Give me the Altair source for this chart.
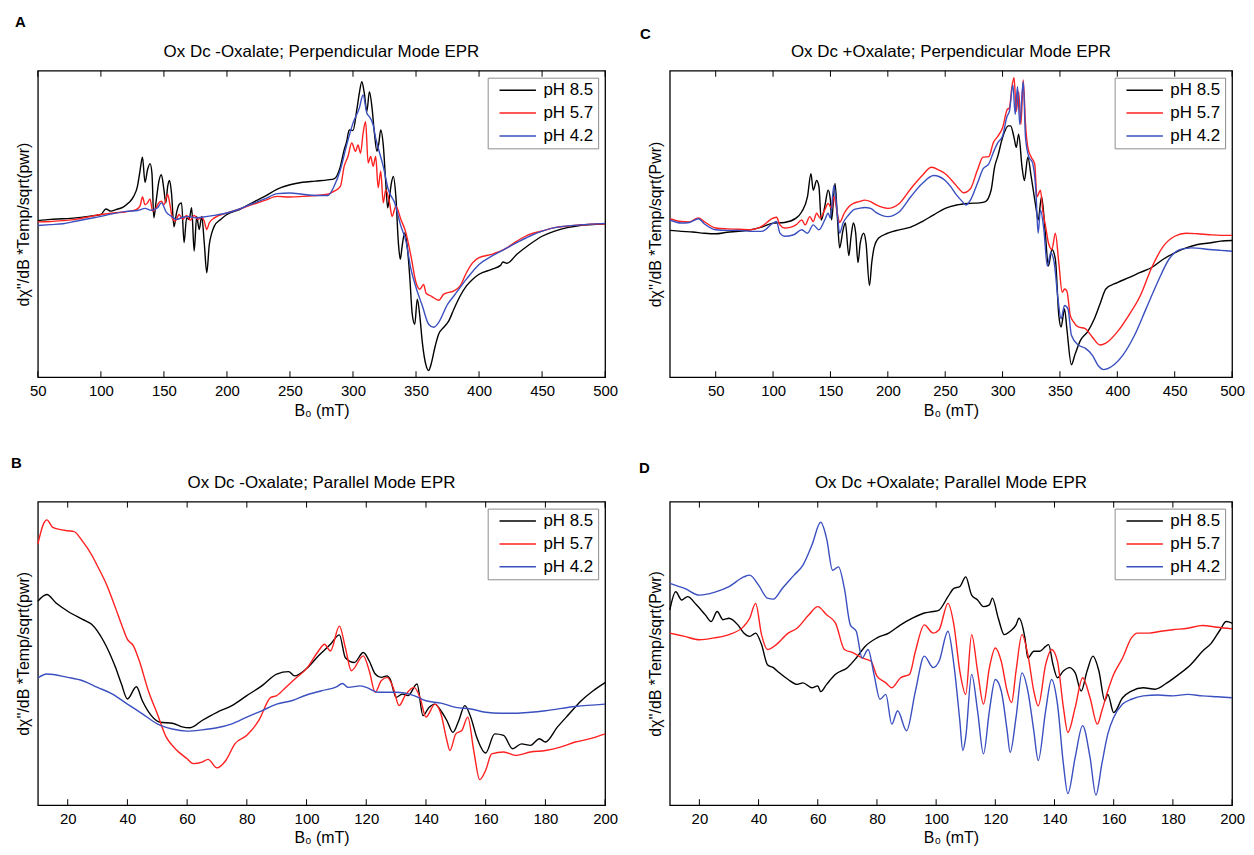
import altair as alt
import pandas as pd

SERIES = ["pH 8.5", "pH 5.7", "pH 4.2"]
COLORS = ["#000000", "#ff2020", "#3a4fc0"]

# ---------------- Panel A : Ox Dc -Oxalate, perpendicular mode (B0 in mT, signal in arbitrary units)
A85_B = [50, 60, 70, 80, 90, 100, 104, 108, 112, 118, 122, 126, 129, 131, 133, 135, 137, 139, 140.5, 142, 144, 146, 148, 150, 151.5, 153, 154.5, 156, 158, 160, 162, 164, 166, 168, 170, 172, 174, 176, 178, 180, 182, 184, 186, 188, 190, 195, 200, 210, 220, 230, 240, 250, 260, 270, 280, 285, 290, 293, 295, 297, 300, 303, 305, 307, 309, 311, 313, 315, 317, 319, 320.5, 322, 324, 326, 327.5, 329, 330.5, 332, 334, 336, 337.5, 339, 341, 343, 345, 347, 349, 351, 353, 355, 358, 360, 362, 365, 368, 372, 376, 380, 385, 390, 395, 400, 410, 417, 419, 422, 430, 440, 450, 460, 470, 480, 490, 500]
A85_V = [51.1, 51.5, 51.7, 52.0, 52.5, 53.1, 54.9, 54.2, 54.7, 55.6, 56.9, 59.0, 62.3, 67.2, 71.8, 63.6, 67.7, 69.7, 66.6, 52.0, 58.0, 63.9, 66.1, 61.2, 56.9, 62.3, 64.2, 60.1, 49.1, 53.6, 56.3, 56.9, 43.9, 52.0, 51.5, 55.3, 41.2, 52.5, 48.2, 52.5, 43.9, 34.1, 43.3, 47.1, 49.3, 51.5, 53.1, 54.7, 56.9, 59.0, 61.4, 62.8, 63.6, 64.0, 64.4, 64.7, 68.8, 74.2, 76.9, 80.7, 80.5, 87.2, 92.6, 96.4, 92.6, 86.7, 93.2, 88.3, 79.6, 73.7, 76.4, 80.7, 75.8, 63.4, 55.3, 59.0, 63.4, 65.5, 59.0, 43.9, 38.5, 42.8, 47.1, 42.8, 33.0, 20.6, 17.3, 25.5, 20.0, 11.4, 3.8, 2.2, 4.3, 9.8, 14.1, 16.3, 18.4, 22.2, 26.5, 29.8, 32.0, 33.6, 35.2, 36.5, 37.6, 37.2, 40.1, 43.3, 46.0, 47.7, 48.8, 49.5, 49.8, 50.1]
A57_B = [50, 60, 70, 80, 90, 100, 110, 120, 128, 131, 133, 135, 137, 139, 141, 143, 146, 148, 150, 153, 155, 157, 159, 162, 165, 168, 171, 174, 177, 180, 182, 184, 186, 190, 200, 210, 220, 230, 240, 250, 260, 270, 280, 285, 290, 293, 296, 299, 302, 304, 306, 308, 310, 312, 314, 316, 318, 320, 322, 324, 326, 329, 331, 334, 338, 342, 346, 350, 353, 356, 358, 362, 368, 372, 380, 385, 390, 395, 400, 410, 420, 430, 440, 450, 460, 470, 480, 500]
A57_V = [50.7, 50.8, 51.1, 51.5, 52.3, 53.1, 53.6, 54.0, 54.7, 55.8, 58.8, 56.3, 56.9, 58.2, 54.2, 54.7, 56.9, 57.4, 56.3, 59.6, 55.8, 51.5, 50.9, 53.1, 51.5, 52.8, 51.2, 52.8, 51.5, 52.2, 50.9, 48.2, 50.4, 52.0, 53.6, 54.9, 56.3, 57.7, 59.0, 58.8, 59.0, 59.3, 59.7, 60.7, 62.3, 68.8, 72.0, 76.4, 73.7, 75.8, 73.1, 79.6, 83.4, 69.9, 72.0, 68.8, 72.0, 61.8, 67.2, 56.9, 61.2, 56.9, 52.5, 55.8, 51.5, 47.1, 39.5, 30.9, 28.7, 30.3, 27.4, 26.5, 25.1, 27.1, 28.2, 29.8, 34.1, 37.4, 39.0, 40.1, 41.7, 44.4, 46.6, 47.7, 48.8, 49.3, 49.7, 50.1]
A42_B = [50, 60, 70, 80, 90, 100, 110, 120, 130, 135, 140, 145, 148, 152, 156, 160, 165, 170, 175, 180, 190, 200, 210, 220, 230, 240, 250, 260, 270, 280, 285, 290, 295, 300, 305, 308, 311, 313, 316, 318, 320, 324, 328, 333, 338, 342, 346, 350, 355, 360, 364, 368, 375, 380, 390, 400, 410, 420, 430, 440, 450, 460, 480, 500]
A42_V = [49.5, 49.8, 50.1, 50.9, 51.7, 52.5, 53.4, 54.1, 54.5, 55.1, 54.5, 55.3, 56.9, 53.8, 52.5, 51.5, 52.2, 52.5, 52.0, 52.2, 52.8, 53.6, 54.9, 56.6, 58.2, 59.9, 60.1, 59.7, 59.3, 59.3, 62.3, 67.7, 75.8, 82.9, 87.8, 92.1, 86.1, 85.0, 82.3, 78.0, 74.8, 68.8, 61.2, 56.9, 49.3, 44.4, 35.2, 29.3, 23.3, 17.3, 16.3, 17.9, 23.8, 26.5, 32.0, 36.8, 39.5, 41.7, 43.9, 46.0, 47.7, 48.8, 49.7, 50.2]

# ---------------- Panel C : Ox Dc +Oxalate, perpendicular mode
C85_B = [10, 20, 30, 40, 50, 60, 70, 80, 90, 100, 110, 120, 125, 130, 133, 135, 138, 140, 142, 145, 148, 150, 151, 154, 156, 158, 161, 163, 166, 168, 170, 172, 174, 176, 179, 181, 184, 186, 188, 192, 200, 210, 220, 230, 240, 250, 260, 270, 280, 285, 290, 293, 296, 300, 305, 307, 310, 312, 314, 317, 319, 322, 325, 329, 331, 334, 337, 340, 343, 346, 349, 351, 354, 356, 360, 363, 368, 374, 380, 385, 390, 400, 410, 420, 430, 440, 450, 460, 470, 480, 490, 500]
C85_V = [47.9, 47.6, 47.4, 47.0, 46.8, 47.3, 47.6, 48.1, 49.0, 50.3, 50.5, 51.9, 54.0, 58.9, 66.4, 61.0, 64.2, 62.1, 51.3, 55.6, 61.0, 57.8, 51.3, 63.2, 52.4, 42.2, 48.1, 50.3, 39.7, 46.0, 50.3, 47.0, 37.4, 43.8, 47.0, 43.8, 29.9, 37.4, 42.2, 45.4, 47.0, 48.1, 49.0, 50.8, 53.0, 55.1, 56.2, 56.7, 56.9, 57.3, 61.0, 68.5, 72.3, 78.2, 82.0, 82.0, 78.2, 75.0, 79.3, 68.5, 64.2, 71.8, 65.3, 55.6, 51.3, 58.9, 48.1, 36.3, 41.7, 38.5, 20.2, 16.4, 22.3, 15.9, 4.1, 7.3, 12.1, 14.8, 19.1, 24.0, 28.8, 30.9, 32.5, 34.2, 35.8, 38.5, 40.6, 42.2, 43.3, 43.8, 44.4, 44.6]
C57_B = [10, 20, 27, 35, 40, 50, 60, 70, 80, 90, 100, 103, 106, 110, 115, 120, 125, 128, 132, 135, 138, 141, 145, 148, 151, 153, 156, 158, 162, 166, 170, 175, 180, 185, 190, 200, 210, 220, 230, 238, 245, 250, 257, 262, 266, 272, 278, 283, 288, 292, 296, 300, 304, 306, 308, 310, 312, 314, 316, 318, 320, 322, 325, 328, 330, 333, 335, 338, 340, 343, 346, 349, 352, 354, 356, 359, 362, 366, 372, 378, 385, 390, 400, 410, 420, 430, 440, 450, 460, 470, 480, 490, 500]
C57_V = [51.7, 50.8, 50.7, 52.0, 50.8, 48.7, 48.4, 48.3, 48.1, 49.2, 51.9, 52.2, 49.7, 48.7, 48.9, 49.7, 51.3, 49.7, 52.4, 50.8, 53.5, 51.9, 54.6, 56.7, 55.1, 58.9, 53.5, 50.5, 53.5, 55.6, 56.7, 57.3, 57.8, 57.3, 56.2, 55.1, 56.7, 61.5, 65.8, 68.5, 67.5, 66.4, 63.7, 61.5, 60.2, 61.5, 67.5, 71.8, 72.0, 76.6, 78.7, 81.4, 87.3, 87.9, 94.3, 97.7, 86.8, 93.2, 82.5, 97.0, 82.5, 75.0, 71.8, 69.6, 58.9, 61.0, 54.6, 48.1, 43.8, 41.7, 47.0, 37.4, 27.7, 28.8, 28.2, 20.2, 18.0, 16.4, 15.9, 13.2, 10.5, 11.1, 14.8, 20.2, 26.6, 35.8, 42.7, 46.0, 47.0, 46.8, 46.5, 46.3, 46.3]
C42_B = [10, 20, 27, 35, 40, 50, 60, 70, 80, 90, 100, 103, 106, 110, 118, 125, 130, 135, 140, 145, 148, 150, 153, 156, 158, 161, 166, 170, 175, 180, 185, 190, 200, 210, 220, 230, 240, 250, 255, 260, 265, 268, 272, 278, 283, 288, 292, 296, 300, 304, 306, 309, 311, 313, 315, 318, 320, 323, 326, 329, 331, 333, 336, 339, 342, 345, 348, 351, 354, 357, 360, 366, 372, 378, 384, 388, 395, 405, 415, 425, 435, 445, 455, 465, 480, 490, 500]
C42_V = [51.3, 50.3, 50.5, 51.7, 50.1, 48.1, 47.9, 47.9, 47.6, 47.6, 50.3, 50.8, 47.0, 46.0, 46.5, 48.1, 47.0, 49.7, 48.1, 51.3, 53.5, 51.9, 62.6, 53.5, 47.0, 50.3, 53.0, 54.6, 55.1, 55.4, 55.1, 53.7, 52.4, 54.0, 58.9, 63.2, 65.8, 64.2, 62.1, 59.4, 57.3, 56.2, 57.8, 63.2, 68.0, 69.6, 73.4, 76.6, 78.7, 85.2, 86.8, 95.4, 85.7, 94.8, 82.5, 96.5, 78.2, 71.8, 70.1, 61.0, 47.0, 54.6, 48.1, 36.3, 40.6, 37.4, 26.6, 19.1, 23.4, 22.3, 13.7, 10.5, 9.5, 7.3, 3.5, 2.5, 3.5, 7.3, 13.7, 22.3, 30.9, 38.5, 41.7, 42.2, 41.7, 41.4, 41.1]

# ---------------- Panel B : Ox Dc -Oxalate, parallel mode
B85_B = [10, 13, 16, 20, 25, 28, 32, 36, 38, 40, 43, 45, 48, 51, 55, 58, 61, 65, 70, 75, 80, 85, 90, 94, 96, 100, 104, 108, 111, 113, 116, 119, 121, 123, 125, 127, 128, 130, 132, 134, 137, 139, 141, 143, 145, 147, 149, 151, 153, 155, 157, 160, 163, 166, 169, 172, 175, 178, 180, 184, 188, 192, 196, 200]
B85_V = [67.2, 69.4, 66.7, 63.9, 61.2, 59.6, 54.1, 45.4, 39.9, 35.0, 39.0, 34.4, 29.5, 27.3, 27.0, 25.9, 25.5, 27.9, 30.6, 32.8, 36.1, 39.3, 43.2, 44.0, 42.6, 45.0, 49.2, 53.0, 56.1, 48.6, 47.0, 50.3, 47.5, 43.2, 42.1, 42.6, 41.5, 35.5, 36.6, 36.1, 39.9, 29.5, 32.2, 33.3, 31.1, 27.9, 24.0, 27.9, 32.8, 29.0, 22.4, 17.2, 23.5, 23.0, 18.6, 20.2, 19.7, 21.9, 20.8, 25.7, 30.1, 34.4, 37.7, 40.4]
B57_B = [10, 12, 13, 15, 20, 22, 25, 28, 30, 33, 36, 38, 40, 42, 44, 47, 50, 53, 56, 60, 62, 65, 67, 70, 73, 76, 80, 84, 88, 90, 93, 96, 100, 104, 106, 108, 111, 113, 115, 119, 121, 123, 125, 127, 129, 131, 133, 136, 138, 140, 143, 145, 147, 148, 150, 152, 154, 156, 158, 160, 162, 166, 170, 175, 180, 185, 190, 195, 200]
B57_V = [86.0, 92.9, 94.0, 91.5, 90.4, 90.2, 86.9, 82.5, 78.7, 72.7, 65.0, 59.6, 54.6, 52.5, 47.5, 37.7, 30.1, 22.4, 18.6, 15.3, 13.7, 14.2, 15.1, 12.3, 14.8, 20.2, 23.0, 27.9, 35.5, 36.1, 38.8, 41.5, 45.0, 50.8, 53.0, 50.8, 59.0, 51.9, 44.3, 49.2, 44.3, 37.2, 41.0, 42.1, 38.8, 32.8, 36.1, 38.8, 35.5, 29.0, 33.3, 30.1, 21.3, 18.0, 23.5, 24.6, 29.0, 18.0, 8.4, 11.5, 16.9, 17.5, 16.4, 17.5, 18.0, 19.1, 20.8, 21.9, 23.5]
B42_B = [10, 13, 20, 25, 30, 35, 40, 45, 50, 55, 60, 65, 70, 75, 80, 85, 90, 95, 100, 105, 110, 112, 114, 118, 120, 124, 130, 136, 140, 145, 150, 155, 160, 165, 170, 175, 180, 190, 200]
B42_V = [41.9, 43.2, 42.1, 41.0, 38.8, 36.6, 33.3, 30.1, 26.8, 25.1, 24.4, 24.8, 25.5, 26.8, 29.0, 31.1, 33.3, 34.4, 36.3, 37.7, 39.0, 40.1, 38.8, 39.3, 38.8, 37.2, 37.2, 36.1, 34.4, 33.6, 32.2, 31.7, 30.6, 30.3, 30.3, 30.6, 31.1, 32.5, 33.3]

# ---------------- Panel D : Ox Dc +Oxalate, parallel mode
D85_B = [10, 12, 14, 16, 19, 22, 24, 26, 28, 30, 33, 35, 37, 39, 41, 43, 45, 47, 50, 53, 55, 58, 60, 61, 63, 66, 70, 73, 76, 80, 84, 88, 92, 96, 99, 101, 104, 106, 108, 110, 112, 114, 116, 118, 119, 121, 123, 125, 127, 128, 130, 131, 133, 135, 137, 138, 139.5, 141, 143, 145, 147, 149, 151, 153, 155, 157, 158, 160, 163, 166, 170, 174, 178, 182, 186, 190, 193, 196, 198, 200]
D85_V = [64.3, 70.3, 67.6, 68.7, 66.0, 62.7, 60.5, 63.8, 61.1, 61.6, 59.4, 56.7, 55.6, 56.7, 52.9, 46.3, 45.3, 43.6, 41.4, 39.8, 40.3, 38.7, 39.3, 37.4, 39.8, 43.1, 45.3, 48.5, 52.3, 55.1, 56.7, 59.4, 61.6, 63.3, 63.8, 64.3, 68.7, 71.4, 72.0, 75.2, 69.2, 67.6, 65.4, 66.0, 68.2, 61.6, 56.2, 57.3, 59.4, 61.6, 55.1, 48.5, 50.7, 50.7, 52.3, 52.9, 46.3, 42.0, 44.2, 45.3, 43.6, 37.6, 44.2, 49.1, 44.2, 34.4, 36.5, 30.5, 35.4, 37.6, 38.7, 38.2, 40.3, 43.1, 46.3, 50.7, 53.4, 57.8, 60.5, 60.0]
D57_B = [10, 15, 20, 25, 30, 35, 37, 39, 41, 43, 46, 50, 53, 57, 60, 63, 66, 69, 72, 75, 78, 80, 83, 85, 88, 91, 93, 96, 99, 101, 104, 106, 108, 110, 112, 114, 116, 118, 120, 122, 124, 125.5, 127, 129, 131, 133, 134.5, 137, 139, 141, 143, 144.5, 147, 149.5, 152, 154.5, 156, 158, 160, 163, 166, 168, 172, 176, 180, 185, 190, 195, 200]
D57_V = [56.7, 55.6, 54.5, 55.1, 56.2, 58.9, 61.6, 66.5, 56.2, 51.3, 52.9, 56.7, 58.3, 62.7, 65.4, 62.7, 60.0, 51.3, 50.2, 48.5, 47.4, 42.5, 40.3, 38.7, 42.0, 43.1, 50.7, 59.4, 56.7, 57.8, 66.5, 59.4, 44.2, 36.5, 56.2, 44.2, 33.3, 45.3, 51.8, 47.4, 37.6, 33.8, 44.2, 56.2, 49.6, 37.6, 32.7, 46.3, 51.3, 47.4, 32.2, 24.0, 32.2, 42.0, 35.4, 26.7, 31.1, 37.6, 43.1, 48.5, 55.1, 56.7, 56.7, 57.3, 57.8, 58.3, 59.2, 58.6, 58.1]
D42_B = [10, 15, 20, 25, 30, 35, 37, 40, 43, 45, 48, 52, 55, 58, 61, 63, 65, 67, 69, 71, 73, 75, 77, 79, 81, 83, 85, 87, 90, 93, 96, 99, 101, 104, 106, 108, 109, 110, 112, 114, 116, 118, 120, 122, 124, 125, 127, 129, 131, 133, 134.5, 137, 139, 141, 143, 144.5, 147, 149.5, 152, 154, 156, 158, 160, 163, 166, 170, 175, 180, 185, 190, 195, 200]
D42_V = [73.1, 71.4, 69.2, 70.1, 72.0, 75.2, 75.8, 72.5, 68.2, 67.9, 71.4, 75.8, 79.1, 85.6, 93.2, 87.8, 77.4, 78.5, 71.4, 59.4, 57.3, 48.5, 51.3, 43.1, 34.9, 36.5, 26.7, 31.1, 24.5, 37.6, 49.1, 45.3, 47.4, 57.3, 46.3, 27.8, 18.0, 22.4, 43.1, 31.1, 16.9, 31.1, 41.4, 37.6, 24.5, 17.4, 28.9, 43.6, 37.6, 24.5, 14.7, 31.1, 41.4, 33.3, 13.6, 3.8, 15.8, 26.2, 15.8, 3.3, 13.6, 23.4, 28.9, 33.3, 34.9, 36.0, 36.3, 36.0, 36.5, 36.0, 35.7, 35.4]

# tick values of the x axes
TICKS_PERP = [50, 100, 150, 200, 250, 300, 350, 400, 450, 500]
TICKS_PAR = [20, 40, 60, 80, 100, 120, 140, 160, 180, 200]

TITLES = ["Ox Dc -Oxalate; Perpendicular Mode EPR", "Ox Dc +Oxalate; Perpendicular Mode EPR",
          "Ox Dc -Oxalate; Parallel Mode EPR", "Ox Dc +Oxalate; Parallel Mode EPR"]
YTITLES = ["d\u03c7''/dB *Temp/sqrt(pwr)", "d\u03c7''/dB *Temp/sqrt(Pwr)",
           "d\u03c7''/dB *Temp/sqrt(pwr)", "d\u03c7''/dB *Temp/sqrt(Pwr)"]
LETTERS = ["A", "C", "B", "D"]

FONT = "Liberation Sans"


def panel(letter, title, ytitle, xs, vs, domain, ticks, w, h, ldx, ldy):
    rows = []
    for name, bx, vy in zip(SERIES, xs, vs):
        for b, v in zip(bx, vy):
            rows.append({"B": b, "v": v, "pH": name})
    df = pd.DataFrame(rows)

    xenc = alt.X("B:Q",
                 scale=alt.Scale(domain=domain, nice=False, zero=False),
                 axis=alt.Axis(values=ticks, title="B\u2080 (mT)", labelFlush=False,
                               labelOverlap=False, ticks=False, domain=False, grid=False,
                               labelPadding=6, titlePadding=4, labelFontSize=15,
                               titleFontSize=16, labelColor="black", titleColor="black",
                               titleFontWeight="normal", labelFont=FONT, titleFont=FONT))
    yenc = alt.Y("v:Q", scale=alt.Scale(domain=[0, 100], nice=False, zero=False),
                 axis=alt.Axis(title=ytitle, labels=False, ticks=False, domain=False,
                               grid=False, titlePadding=6, titleFontSize=16,
                               titleColor="black", titleFontWeight="normal", titleFont=FONT))

    lines = alt.Chart(df).mark_line(strokeWidth=1.4, interpolate="monotone").encode(
        x=xenc, y=yenc,
        color=alt.Color("pH:N", scale=alt.Scale(domain=SERIES, range=COLORS),
                        legend=alt.Legend(orient="top-right", offset=7, title=None,
                                          symbolType="M-0.1,0H6", symbolSize=144,
                                          symbolStrokeWidth=1.5, labelFontSize=17,
                                          labelFont=FONT, labelColor="black",
                                          labelOffset=35, padding=4, rowPadding=5,
                                          strokeColor="#8c8c8c", fillColor="white",
                                          cornerRadius=0)),
    )

    tdf = pd.DataFrame({"B": ticks})
    top_ticks = alt.Chart(tdf).mark_rule(color="black", strokeWidth=1).encode(
        x=xenc, y=alt.value(0), y2=alt.value(6))
    bot_ticks = alt.Chart(tdf).mark_rule(color="black", strokeWidth=1).encode(
        x=xenc, y=alt.value(h - 6), y2=alt.value(h))

    ttl = alt.Chart(pd.DataFrame({"t": [title]})).mark_text(
        fontSize=17, font=FONT, align="center", baseline="middle", color="black").encode(
        text="t:N", x=alt.value(w / 2), y=alt.value(-19))
    let = alt.Chart(pd.DataFrame({"t": [letter]})).mark_text(
        fontSize=15, font=FONT, fontWeight="bold", align="left", baseline="middle",
        color="black").encode(text="t:N", x=alt.value(ldx), y=alt.value(ldy))

    return alt.layer(lines, top_ticks, bot_ticks, ttl, let).properties(width=w, height=h)


pA = panel("A", TITLES[0], YTITLES[0], [A85_B, A57_B, A42_B], [A85_V, A57_V, A42_V],
           [50, 500], TICKS_PERP, 570, 308, -23, -49)
pC = panel("C", TITLES[1], YTITLES[1], [C85_B, C57_B, C42_B], [C85_V, C57_V, C42_V],
           [10, 500], TICKS_PERP, 565, 308, -30, -37)
pB = panel("B", TITLES[2], YTITLES[2], [B85_B, B57_B, B42_B], [B85_V, B57_V, B42_V],
           [10, 200], TICKS_PAR, 570, 305, -27, -39)
pD = panel("D", TITLES[3], YTITLES[3], [D85_B, D57_B, D42_B], [D85_V, D57_V, D42_V],
           [10, 200], TICKS_PAR, 565, 305, -31, -34)

chart = alt.concat(pA, pC, pB, pD, columns=2, spacing={"row": 125, "column": 65},
                   bounds="flush").resolve_scale(
    color="independent", x="independent", y="independent").resolve_legend(
    color="independent").properties(
    padding={"left": 2, "top": 4, "right": 0, "bottom": 0}).configure(
    font=FONT).configure_view(stroke="black", strokeWidth=1.3)

chart.save("out.html", embed_options={"renderer": "svg", "actions": False})
